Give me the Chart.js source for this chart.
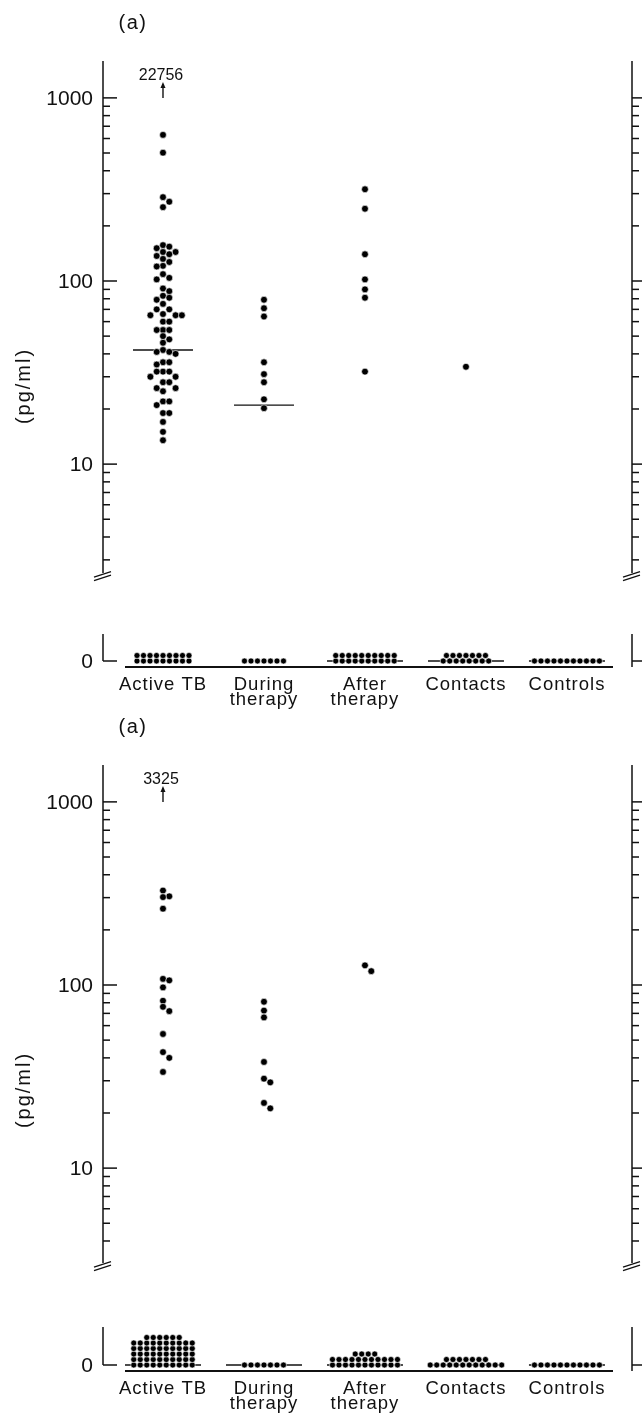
<!DOCTYPE html>
<html>
<head>
<meta charset="utf-8">
<script src="https://cdn.jsdelivr.net/npm/chart.js@4.4.1/dist/chart.umd.min.js"></script>
<style>
  html, body { margin: 0; padding: 0; background: #fff; }
  body { position: relative; width: 642px; height: 1416px; overflow: hidden; }
  canvas { position: absolute; left: 0; display: block; }
</style>
</head>
<body>
<canvas id="top" width="642" height="716" style="top:0"></canvas>
<canvas id="bottom" width="642" height="712" style="top:704px"></canvas>
<script>
// ---- data ----
const categories = [["Active TB"], ["During", "therapy"], ["After", "therapy"], ["Contacts"], ["Controls"]];
const yTickLabels = [10, 100, 1000];
const zeroTickLabel = "0";
const yTitle = "(pg/ml)";
const panelLabel = "(a)";

// upper panel: detectable values (pg/ml)
const topActiveTB = [628, 502, 287, 271, 253, 157, 154, 151, 144, 144, 140, 137, 132, 127, 121, 120, 109, 104, 102,
  91, 88, 83, 81, 79, 75, 70, 70, 66, 65, 65, 65, 60, 60, 54, 54, 54, 50, 48, 46, 42, 41, 41, 40, 36, 36, 35,
  32, 32, 32, 30, 30, 28, 28, 26, 26, 25, 22, 22, 21, 19, 19, 17, 15, 13.5];
const topDuring = [79, 71, 64, 36, 31, 28, 22.6, 20.2];
const topAfter = [317, 248, 140, 102, 90, 81, 32];
const topContacts = [34];
const topControls = [];
const topZeroCounts = [18, 7, 20, 15, 11];
const topMedians = [42, 21, 0, 0, 0];
const topOffscale = [22756, null, null, null, null];

// lower panel
const botActiveTB = [328, 305, 302, 261, 108, 106, 97, 82, 76, 72, 54, 43, 40, 33.5];
const botDuring = [81, 72.5, 66.5, 38, 30.8, 29.4, 22.7, 21.2];
const botAfter = [128, 119];
const botContacts = [];
const botControls = [];
const botZeroCounts = [56, 7, 26, 19, 11];
const botMedians = [0, 0, 0, 0, 0];
const botOffscale = [3325, null, null, null, null];

// ---- layout ----
const INK = "#111";
const FONT = '"Liberation Sans", Arial, sans-serif';
const AREA = { left: 103, right: 632, top: 61, bottom: 667 };
const X_RANGE = [0.406, 5.644];
const LOG_RANGE = [0.78, 1590];
const ZERO_Y = 661;
const ROW_PX = 5.5;
const ZERO_COL_PX = 6.5;
const COL_PX = 6.3;
const MIN_GAP = 6.0;
const SWARM_ORDER = [0, 1, -1, 2, -2, 3, -3, 4, -4, 5, -5];
const X_LINE = [125, 613];
const MEDIAN_HALF = { value: 30, zero: 38 };

const panels = [
  { id: "top", groups: [topActiveTB, topDuring, topAfter, topContacts, topControls],
    zeros: topZeroCounts, medians: topMedians, offscale: topOffscale,
    rowCaps: [9, 10, 10, 8, 11], axisFloor: 2.54, zeroAxisTop: 4.9 },
  { id: "bottom", groups: [botActiveTB, botDuring, botAfter, botContacts, botControls],
    zeros: botZeroCounts, medians: botMedians, offscale: botOffscale,
    rowCaps: [10, 10, 11, 12, 11], axisFloor: 3.03, zeroAxisTop: 6.9 }
];

function line(ctx, x1, y1, x2, y2) {
  ctx.beginPath();
  ctx.moveTo(x1, y1);
  ctx.lineTo(x2, y2);
  ctx.stroke();
}

function logTicks(floor) {
  const list = [];
  for (let d = 1; d <= 1000; d *= 10) {
    for (let k = 1; k <= 9; k++) {
      const v = k * d;
      if (v >= floor && v <= LOG_RANGE[1]) list.push({ v, major: k === 1 });
    }
  }
  return list;
}

const axesPlugin = {
  id: "axes",
  afterDraw(chart, args, o) {
    const ctx = chart.ctx;
    const xs = chart.scales.x, ys = chart.scales.y, yz = chart.scales.y0;
    const topPx = ys.getPixelForValue(LOG_RANGE[1]);
    const floorPx = ys.getPixelForValue(o.axisFloor);
    const zeroPx = yz.getPixelForValue(0);
    const zeroTopPx = yz.getPixelForValue(o.zeroAxisTop);
    const ticks = logTicks(o.axisFloor);

    ctx.save();
    ctx.strokeStyle = INK;
    ctx.fillStyle = INK;
    ctx.lineWidth = 1.5;

    [AREA.left, AREA.right].forEach(ax => {
      line(ctx, ax, topPx, ax, floorPx);
      ticks.forEach(t => {
        const py = ys.getPixelForValue(t.v);
        line(ctx, ax, py, ax + (t.major ? 14 : 7), py);
      });
      ctx.lineWidth = 1.3;
      line(ctx, ax - 9, floorPx + 4, ax + 8, floorPx - 1.5);
      line(ctx, ax - 9, floorPx + 7.5, ax + 8, floorPx + 2);
      ctx.lineWidth = 1.5;
      line(ctx, ax, zeroTopPx, ax, ax === AREA.left ? zeroPx : AREA.bottom);
      line(ctx, ax, zeroPx, ax + 14, zeroPx);
    });

    // tick labels
    ctx.font = "21px " + FONT;
    ctx.textAlign = "right";
    ctx.textBaseline = "middle";
    yTickLabels.forEach(v => ctx.fillText(String(v), AREA.left - 10, ys.getPixelForValue(v) + 1));
    ctx.fillText(zeroTickLabel, AREA.left - 10, zeroPx + 1);

    // x axis line
    ctx.lineWidth = 1.8;
    line(ctx, X_LINE[0], AREA.bottom, X_LINE[1], AREA.bottom);

    // category labels
    ctx.font = "18.5px " + FONT;
    ctx.letterSpacing = "1px";
    ctx.textAlign = "center";
    ctx.textBaseline = "alphabetic";
    categories.forEach((lines, i) => {
      const px = xs.getPixelForValue(i + 1);
      lines.forEach((txt, j) => ctx.fillText(txt, px, 690 + j * 15));
    });

    // panel label and axis title
    ctx.font = "20px " + FONT;
    ctx.letterSpacing = "1.5px";
    ctx.fillText(panelLabel, 133, 28.5);
    ctx.save();
    ctx.translate(24, 386);
    ctx.rotate(-Math.PI / 2);
    ctx.letterSpacing = "2px";
    ctx.textBaseline = "middle";
    ctx.fillText(yTitle, 0, 0);
    ctx.restore();

    // off-scale values
    ctx.letterSpacing = "0px";
    ctx.font = "16px " + FONT;
    o.offscale.forEach((v, i) => {
      if (v == null) return;
      const px = xs.getPixelForValue(i + 1);
      const base = ys.getPixelForValue(1000);
      ctx.lineWidth = 1.4;
      line(ctx, px, base, px, base - 11);
      ctx.beginPath();
      ctx.moveTo(px, base - 16);
      ctx.lineTo(px - 2.5, base - 10);
      ctx.lineTo(px + 2.5, base - 10);
      ctx.closePath();
      ctx.fill();
      ctx.fillText(String(v), px - 2, base - 18);
    });
    ctx.restore();
  }
};

function buildPanel(p) {
  const canvas = document.getElementById(p.id);
  const H = canvas.height;
  const medianSets = p.medians.map(() => ({
    type: "line", data: [], yAxisID: "y", borderColor: INK, borderWidth: 1.3,
    pointRadius: 0, tension: 0, order: 2
  }));
  const chart = new Chart(canvas.getContext("2d"), {
    type: "scatter",
    data: {
      datasets: [
        { data: [], yAxisID: "y", pointRadius: 3.4, pointBorderWidth: 0.6,
          pointBackgroundColor: "#000", pointBorderColor: "#fff", order: 1 },
        { data: [], yAxisID: "y0", pointRadius: 3.0, pointBorderWidth: 0.6,
          pointBackgroundColor: "#000", pointBorderColor: "#fff", order: 1 },
        ...medianSets
      ]
    },
    options: {
      responsive: false,
      animation: false,
      events: [],
      layout: { padding: { left: AREA.left, right: canvas.width - AREA.right, top: AREA.top, bottom: H - AREA.bottom } },
      plugins: {
        legend: { display: false },
        tooltip: { enabled: false },
        axes: { axisFloor: p.axisFloor, zeroAxisTop: p.zeroAxisTop, offscale: p.offscale }
      },
      scales: {
        x: { type: "linear", display: false, min: X_RANGE[0], max: X_RANGE[1] },
        y: { type: "logarithmic", display: false, min: LOG_RANGE[0], max: LOG_RANGE[1] },
        y0: { type: "linear", display: false,
              min: -(AREA.bottom - ZERO_Y) / ROW_PX, max: (ZERO_Y - AREA.top) / ROW_PX }
      }
    },
    plugins: [axesPlugin]
  });

  // beeswarm for detectable values, stacked rows for zeros
  const xs = chart.scales.x, ys = chart.scales.y;
  const upper = [], zeros = [];
  p.groups.forEach((vals, i) => {
    const cx = xs.getPixelForValue(i + 1);
    const placed = [];
    vals.slice().sort((a, b) => b - a).forEach(v => {
      const py = ys.getPixelForValue(v);
      const k = SWARM_ORDER.find(k =>
        placed.every(q => Math.hypot(q.x - (cx + k * COL_PX), q.y - py) >= MIN_GAP));
      placed.push({ x: cx + k * COL_PX, y: py });
      upper.push({ x: xs.getValueForPixel(cx + k * COL_PX), y: v });
    });

    let left = p.zeros[i];
    for (let row = 0; left > 0; row++) {
      const m = Math.min(p.rowCaps[i], left);
      for (let j = 0; j < m; j++) {
        zeros.push({ x: xs.getValueForPixel(cx + (j - (m - 1) / 2) * ZERO_COL_PX), y: row });
      }
      left -= m;
    }

    const med = p.medians[i];
    const ds = chart.data.datasets[2 + i];
    const hw = med > 0 ? MEDIAN_HALF.value : MEDIAN_HALF.zero;
    ds.yAxisID = med > 0 ? "y" : "y0";
    ds.data = [{ x: xs.getValueForPixel(cx - hw), y: med }, { x: xs.getValueForPixel(cx + hw), y: med }];
  });
  chart.data.datasets[0].data = upper;
  chart.data.datasets[1].data = zeros;
  chart.update("none");
}

panels.forEach(buildPanel);
</script>
</body>
</html>
